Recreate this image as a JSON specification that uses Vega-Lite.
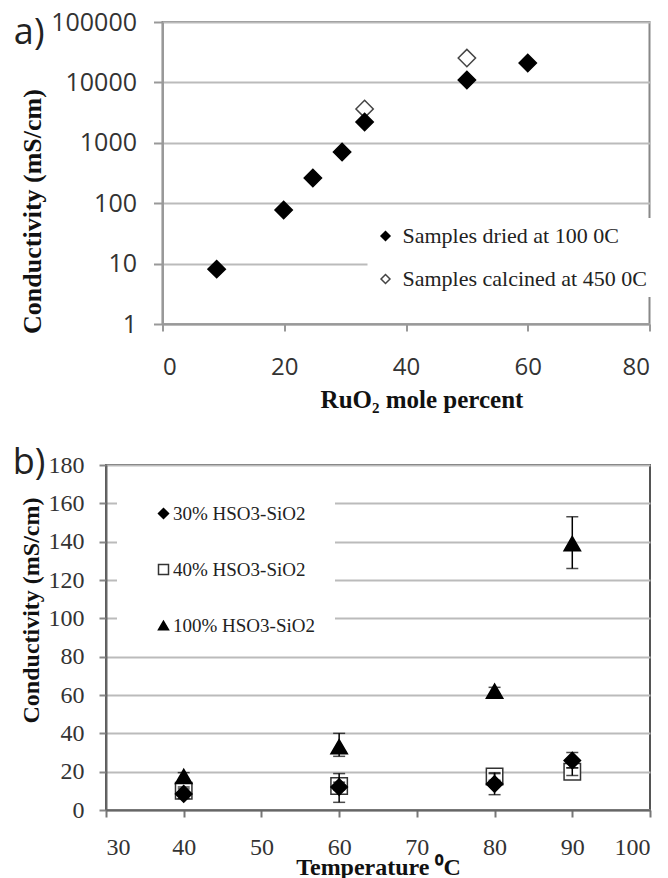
{
  "$schema": "https://vega.github.io/schema/vega-lite/v6.json",
  "background": "white",
  "padding": {"left": 11, "top": 9, "right": -60, "bottom": 0},
  "spacing": 31,
  "center": true,
  "config": {"font": "Liberation Serif", "axis": {"labelColor": "#333", "titleColor": "#111", "labelOverlap": false}},
  "resolve": {
    "scale": {"shape": "independent", "fill": "independent", "stroke": "independent"},
    "legend": {"shape": "independent", "fill": "independent", "stroke": "independent"}
  },
  "vconcat": [
    {
      "width": 487,
      "height": 302,
      "view": {"stroke": "#888", "strokeWidth": 2},
      "layer": [
        {
          "data": {"values": [
            {"ruo2": 33.2, "conductivity": 3630, "sample": "Samples calcined at 450 0C"},
            {"ruo2": 50.0, "conductivity": 25300, "sample": "Samples calcined at 450 0C"},
            {"ruo2": 8.9, "conductivity": 8.1, "sample": "Samples dried at 100 0C"},
            {"ruo2": 19.9, "conductivity": 77, "sample": "Samples dried at 100 0C"},
            {"ruo2": 24.7, "conductivity": 261, "sample": "Samples dried at 100 0C"},
            {"ruo2": 29.5, "conductivity": 705, "sample": "Samples dried at 100 0C"},
            {"ruo2": 33.2, "conductivity": 2210, "sample": "Samples dried at 100 0C"},
            {"ruo2": 50.0, "conductivity": 10960, "sample": "Samples dried at 100 0C"},
            {"ruo2": 60.0, "conductivity": 20900, "sample": "Samples dried at 100 0C"}
          ]},
          "mark": {"type": "point", "size": 300, "opacity": 1, "strokeWidth": 1.5},
          "encoding": {
            "x": {
              "field": "ruo2", "type": "quantitative",
              "scale": {"domain": [0, 80], "nice": false, "zero": false},
              "axis": {
                "values": [0, 20, 40, 60, 80], "grid": false, "tickCount": 20,
                "labelFont": "Open Sans", "labelFontSize": 24, "labelPadding": 24,
                "tickSize": 7, "tickWidth": 2, "tickColor": "#999",
                "domainColor": "#999", "domainWidth": 2,
                "title": "RuO₂ mole percent", "titleFont": "Liberation Serif", "titleFontWeight": "bold",
                "titleFontSize": 25, "titleX": 259, "titleY": 75, "titleBaseline": "middle"
              }
            },
            "y": {
              "field": "conductivity", "type": "quantitative",
              "scale": {"type": "log", "domain": [1, 100000], "nice": false},
              "axis": {
                "values": [1, 10, 100, 1000, 10000, 100000], "format": "d", "tickCount": 20,
                "grid": true, "gridColor": "#bbb", "gridWidth": 2,
                "labelFont": "Open Sans", "labelFontSize": 25, "labelPadding": 17,
                "tickSize": 9, "tickWidth": 2, "tickColor": "#999",
                "domainColor": "#999", "domainWidth": 2,
                "title": "Conductivity (mS/cm)", "titleFont": "Liberation Serif", "titleFontWeight": "bold",
                "titleFontSize": 26, "titleX": -130, "titleY": 189, "titleBaseline": "middle", "titleAlign": "center"
              }
            },
            "shape": {
              "field": "sample", "type": "nominal",
              "scale": {"domain": ["Samples dried at 100 0C", "Samples calcined at 450 0C"], "range": ["diamond", "diamond"]},
              "legend": {
                "title": null, "orient": "none", "legendX": 205, "legendY": 196,
                "fillColor": "white", "padding": 7, "labelFont": "Liberation Serif", "labelFontSize": 22,
                "labelColor": "#222", "labelLimit": 400, "symbolSize": 80, "rowPadding": 21, "labelOffset": 6, "symbolStrokeWidth": 1.5
              }
            },
            "fill": {
              "field": "sample", "type": "nominal",
              "scale": {"domain": ["Samples dried at 100 0C", "Samples calcined at 450 0C"], "range": ["#000000", "#ffffff"]}
            },
            "stroke": {
              "field": "sample", "type": "nominal",
              "scale": {"domain": ["Samples dried at 100 0C", "Samples calcined at 450 0C"], "range": ["#000000", "#444444"]}
            }
          }
        },
        {
          "data": {"values": [{"label": "a)"}]},
          "mark": {"type": "text", "font": "Open Sans", "fontSize": 36, "align": "center", "baseline": "middle", "color": "#222"},
          "encoding": {
            "x": {"datum": -21.9, "type": "quantitative"},
            "y": {"datum": 65800, "type": "quantitative"},
            "text": {"field": "label"}
          }
        }
      ]
    },
    {
      "spacing": 0,
      "hconcat": [
        {
          "width": 544,
          "height": 345,
          "view": {"stroke": "#555", "strokeWidth": 2},
          "data": {"values": [
            {"temp": 40, "cond": 10, "lo": 8, "hi": 12, "sample": "40% HSO3-SiO2"},
            {"temp": 60, "cond": 12.5, "lo": 10.5, "hi": 14.5, "sample": "40% HSO3-SiO2"},
            {"temp": 80, "cond": 17.5, "lo": 15.5, "hi": 19.5, "sample": "40% HSO3-SiO2"},
            {"temp": 90, "cond": 20, "lo": 18, "hi": 22, "sample": "40% HSO3-SiO2"},
            {"temp": 40, "cond": 17.5, "lo": 15.5, "hi": 19.5, "sample": "100% HSO3-SiO2"},
            {"temp": 60, "cond": 33, "lo": 28, "hi": 40, "sample": "100% HSO3-SiO2"},
            {"temp": 80, "cond": 62, "lo": 60, "hi": 64, "sample": "100% HSO3-SiO2"},
            {"temp": 90, "cond": 139, "lo": 126, "hi": 153, "sample": "100% HSO3-SiO2"},
            {"temp": 40, "cond": 8.4, "lo": 6, "hi": 11, "sample": "30% HSO3-SiO2"},
            {"temp": 60, "cond": 12, "lo": 4, "hi": 19, "sample": "30% HSO3-SiO2"},
            {"temp": 80, "cond": 13.6, "lo": 8, "hi": 19, "sample": "30% HSO3-SiO2"},
            {"temp": 90, "cond": 25.8, "lo": 22, "hi": 30, "sample": "30% HSO3-SiO2"}
          ]},
          "layer": [
            {
              "mark": {"type": "point", "opacity": 1, "strokeWidth": 1.5, "size": 270},
              "encoding": {
                "x": {
                  "field": "temp", "type": "quantitative",
                  "scale": {"domain": [30, 100], "nice": false, "zero": false},
                  "axis": {
                    "values": [30, 40, 50, 60, 70, 80, 90, 100], "grid": false, "tickCount": 20,
                    "labelFont": "Liberation Serif", "labelFontSize": 24, "labelPadding": 18,
                    "tickSize": 7, "tickWidth": 2, "tickColor": "#777",
                    "domainColor": "#666", "domainWidth": 2,
                    "title": "Temperature ⁰C", "titleFont": "Liberation Serif", "titleFontWeight": "bold",
                    "titleFontSize": 24, "titleY": 57, "titleBaseline": "middle"
                  }
                },
                "y": {
                  "field": "cond", "type": "quantitative",
                  "scale": {"domain": [0, 180], "nice": false},
                  "axis": {
                    "values": [0, 20, 40, 60, 80, 100, 120, 140, 160, 180], "tickCount": 20,
                    "grid": true, "gridColor": "#bbb", "gridWidth": 2,
                    "labelFont": "Liberation Serif", "labelFontSize": 24, "labelPadding": 15,
                    "tickSize": 7, "tickWidth": 2, "tickColor": "#888",
                    "domainColor": "#666", "domainWidth": 2,
                    "title": "Conductivity (mS/cm)", "titleFont": "Liberation Serif", "titleFontWeight": "bold",
                    "titleFontSize": 24, "titleX": -75, "titleY": 145, "titleBaseline": "middle", "titleAlign": "center"
                  }
                },
                "shape": {
                  "field": "sample", "type": "nominal",
                  "scale": {"domain": ["30% HSO3-SiO2", "40% HSO3-SiO2", "100% HSO3-SiO2"], "range": ["diamond", "square", "triangle-up"]},
                  "legend": {
                    "title": null, "orient": "none", "legendX": 11, "legendY": 19,
                    "fillColor": "white", "padding": 20, "symbolOffset": 17,
                    "labelFont": "Liberation Serif", "labelFontSize": 19, "labelColor": "#222", "labelLimit": 400,
                    "labelExpr": "datum.label + '\u00a0\u00a0\u00a0\u00a0'",
                    "symbolSize": 100, "rowPadding": 36, "labelOffset": 0, "symbolStrokeWidth": 1.5
                  }
                },
                "fill": {
                  "field": "sample", "type": "nominal",
                  "scale": {"domain": ["30% HSO3-SiO2", "40% HSO3-SiO2", "100% HSO3-SiO2"], "range": ["#000000", "#ffffff", "#000000"]}
                },
                "stroke": {
                  "field": "sample", "type": "nominal",
                  "scale": {"domain": ["30% HSO3-SiO2", "40% HSO3-SiO2", "100% HSO3-SiO2"], "range": ["#000000", "#333333", "#000000"]}
                }
              }
            },
            {
              "mark": {"type": "errorbar", "ticks": {"size": 12}, "thickness": 1.5, "color": "#000000"},
              "encoding": {
                "x": {"field": "temp", "type": "quantitative"},
                "y": {
                  "field": "lo", "type": "quantitative",
                  "axis": {
                    "values": [0, 20, 40, 60, 80, 100, 120, 140, 160, 180], "tickCount": 20,
                    "grid": true, "gridColor": "#bbb", "gridWidth": 2,
                    "labelFont": "Liberation Serif", "labelFontSize": 24, "labelPadding": 15,
                    "tickSize": 7, "tickWidth": 2, "tickColor": "#888",
                    "domainColor": "#666", "domainWidth": 2,
                    "title": "Conductivity (mS/cm)", "titleFont": "Liberation Serif", "titleFontWeight": "bold",
                    "titleFontSize": 24, "titleX": -75, "titleY": 145, "titleBaseline": "middle", "titleAlign": "center"
                  }
                },
                "y2": {"field": "hi"}
              }
            },
            {
              "data": {"values": [{"label": "b)"}]},
              "mark": {"type": "text", "font": "Open Sans", "fontSize": 36, "align": "center", "baseline": "middle", "color": "#222"},
              "encoding": {
                "x": {"datum": 20.1, "type": "quantitative"},
                "y": {"datum": 181, "type": "quantitative"},
                "text": {"field": "label"}
              }
            }
          ]
        },
        {
          "width": 60,
          "height": 10,
          "view": {"stroke": null},
          "data": {"values": []},
          "mark": "point"
        }
      ]
    }
  ]
}
